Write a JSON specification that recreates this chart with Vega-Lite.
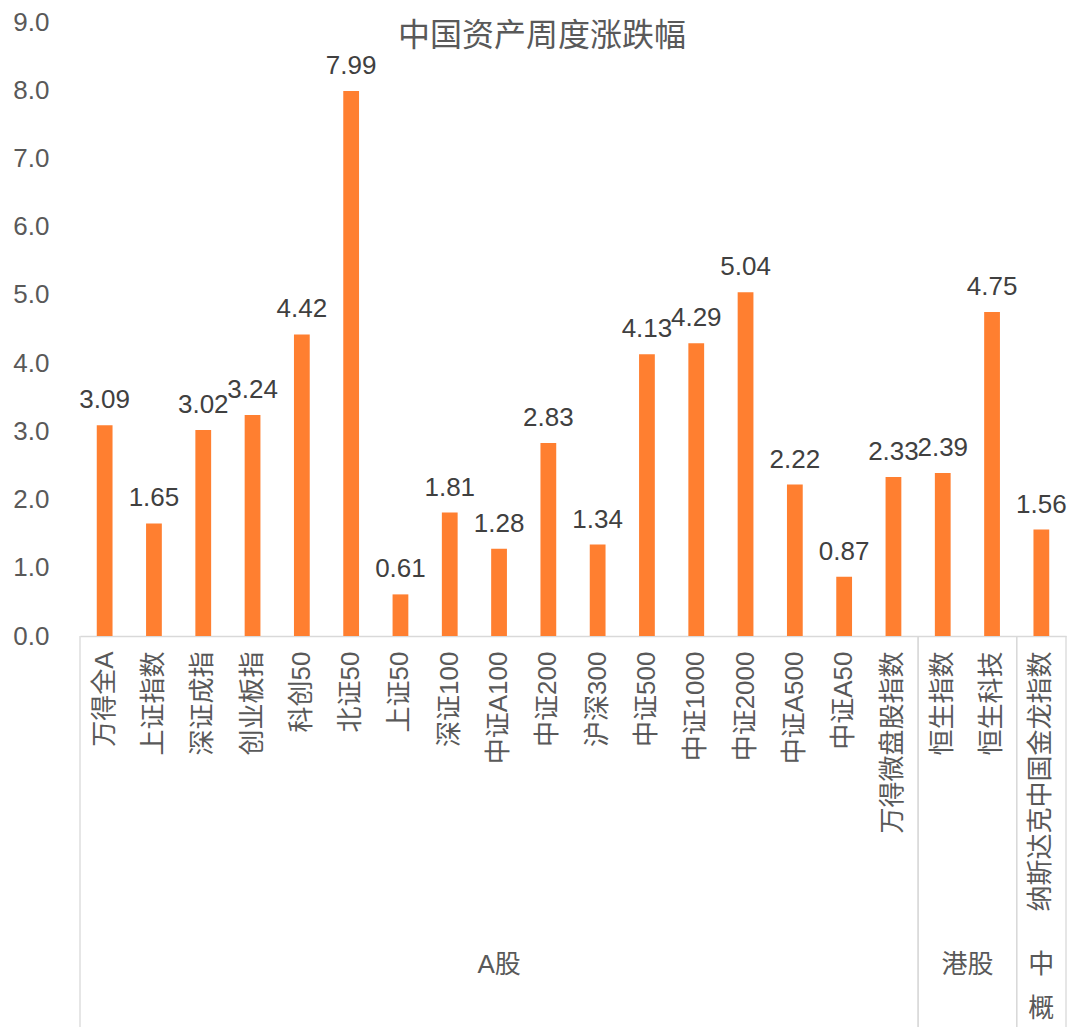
{
  "$schema": "https://vega.github.io/schema/vega-lite/v6.json",
  "autosize": {"type": "none"},
  "width": 986,
  "height": 614,
  "padding": {"left": 80, "top": 22, "right": 5, "bottom": 391},
  "background": "#ffffff",
  "config": {"view": {"stroke": null}},
  "title": {
    "text": "中国资产周度涨跌幅",
    "font": "Noto Sans CJK SC",
    "fontSize": 32,
    "fontWeight": "normal",
    "color": "#595959",
    "anchor": "middle",
    "frame": "group",
    "baseline": "alphabetic",
    "offset": 0,
    "dx": -31,
    "dy": 69
  },
  "datasets": {
    "bars": [
      {"name": "万得全A", "group": "A股", "value": 3.09},
      {"name": "上证指数", "group": "A股", "value": 1.65},
      {"name": "深证成指", "group": "A股", "value": 3.02},
      {"name": "创业板指", "group": "A股", "value": 3.24},
      {"name": "科创50", "group": "A股", "value": 4.42},
      {"name": "北证50", "group": "A股", "value": 7.99},
      {"name": "上证50", "group": "A股", "value": 0.61},
      {"name": "深证100", "group": "A股", "value": 1.81},
      {"name": "中证A100", "group": "A股", "value": 1.28},
      {"name": "中证200", "group": "A股", "value": 2.83},
      {"name": "沪深300", "group": "A股", "value": 1.34},
      {"name": "中证500", "group": "A股", "value": 4.13},
      {"name": "中证1000", "group": "A股", "value": 4.29},
      {"name": "中证2000", "group": "A股", "value": 5.04},
      {"name": "中证A500", "group": "A股", "value": 2.22},
      {"name": "中证A50", "group": "A股", "value": 0.87},
      {"name": "万得微盘股指数", "group": "A股", "value": 2.33},
      {"name": "恒生指数", "group": "港股", "value": 2.39},
      {"name": "恒生科技", "group": "港股", "value": 4.75},
      {"name": "纳斯达克中国金龙指数", "group": "中\n概", "value": 1.56}
    ]
  },
  "data": {"name": "bars"},
  "resolve": {"scale": {"x": "independent"}},
  "layer": [
    {
      "encoding": {
        "x": {
          "field": "name",
          "type": "nominal",
          "sort": null,
          "scale": {"paddingInner": 0.68, "paddingOuter": 0.34},
          "axis": {
            "title": null,
            "labelAngle": -90,
            "labelFont": "Liberation Sans, Noto Sans CJK SC",
            "labelFontSize": 26,
            "labelColor": "#595959",
            "labelPadding": 15,
            "labelLimit": 500,
            "labelOverlap": false,
            "ticks": false,
            "domainColor": "#D9D9D9",
            "domainWidth": 1.3
          }
        },
        "y": {
          "field": "value",
          "type": "quantitative",
          "scale": {"domain": [0, 9], "nice": false},
          "axis": {
            "title": null,
            "values": [0, 1, 2, 3, 4, 5, 6, 7, 8, 9],
            "format": ".1f",
            "domain": false,
            "ticks": false,
            "grid": false,
            "labelFont": "Liberation Sans",
            "labelFontSize": 26,
            "labelColor": "#595959",
            "labelPadding": 31
          }
        }
      },
      "layer": [
        {"mark": {"type": "bar", "color": "#FF7F30"}},
        {
          "mark": {
            "type": "text",
            "font": "Liberation Sans",
            "fontSize": 26,
            "color": "#404040",
            "baseline": "alphabetic",
            "dy": -17
          },
          "encoding": {
            "text": {"field": "value", "type": "quantitative", "format": ".2f"}
          }
        }
      ]
    },
    {
      "transform": [
        {"window": [{"op": "count", "as": "before"}], "frame": [null, -1]},
        {"window": [{"op": "row_number", "as": "upto"}]},
        {
          "aggregate": [
            {"op": "min", "field": "before", "as": "lo"},
            {"op": "max", "field": "upto", "as": "hi"}
          ],
          "groupby": ["group"]
        },
        {"fold": ["lo", "hi"], "as": ["side", "edge"]}
      ],
      "encoding": {
        "x": {
          "field": "edge",
          "type": "quantitative",
          "scale": {"domain": [0, 20], "nice": false, "zero": false},
          "axis": null
        }
      },
      "layer": [
        {
          "mark": {"type": "rule", "color": "#D9D9D9", "strokeWidth": 1.3},
          "encoding": {
            "y": {"datum": 0, "type": "quantitative", "scale": {"domain": [0, 9], "nice": false}},
            "y2": {"datum": -5.8}
          }
        },
        {
          "transform": [
            {"aggregate": [{"op": "mean", "field": "edge", "as": "mid"}], "groupby": ["group"]}
          ],
          "mark": {
            "type": "text",
            "font": "Liberation Sans, Noto Sans CJK SC",
            "fontSize": 26,
            "color": "#595959",
            "baseline": "top",
            "lineBreak": "\n",
            "lineHeight": 44
          },
          "encoding": {
            "x": {"field": "mid", "type": "quantitative", "scale": {"domain": [0, 20], "nice": false, "zero": false}, "axis": null},
            "y": {"datum": -4.63, "type": "quantitative", "scale": {"domain": [0, 9], "nice": false}},
            "text": {"field": "group", "type": "nominal"}
          }
        }
      ]
    }
  ]
}
